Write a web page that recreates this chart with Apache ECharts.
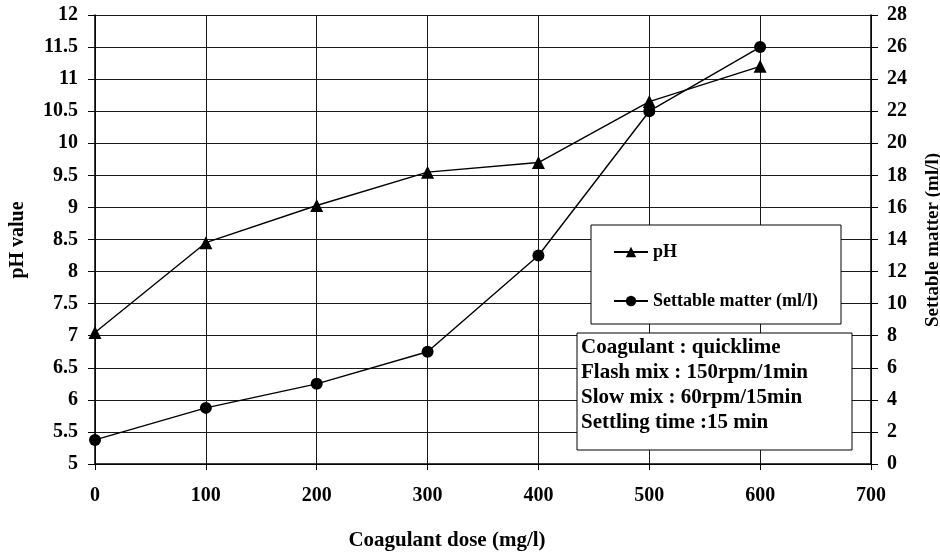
<!DOCTYPE html>
<html>
<head>
<meta charset="utf-8">
<title>pH and settable matter vs coagulant dose</title>
<script src="https://cdn.jsdelivr.net/npm/echarts@6/dist/echarts.min.js"></script>
<style>
    html, body { margin: 0; padding: 0; background: #fff; }
    #chartContainer { width: 940px; height: 552px; }
</style>
</head>
<body>
<div id="chartContainer"></div>
<script>
    'use strict';

    var doses = [0, 100, 200, 300, 400, 500, 600];
    var phValues = [7.05, 8.45, 9.03, 9.55, 9.7, 10.65, 11.2];
    var settableValues = [1.5, 3.5, 5, 7, 13, 22, 26];
    var noteLines = [
        'Coagulant : quicklime',
        'Flash mix : 150rpm/1min',
        'Slow mix : 60rpm/15min',
        'Settling time :15 min'
    ];

    var serif = '"Liberation Serif", "Times New Roman", serif';

    function pairs(xs, ys) {
        var out = [];
        for (var i = 0; i < xs.length; i++) {
            out.push([xs[i], ys[i]]);
        }
        return out;
    }

    var labelStyle = {
        color: '#000',
        fontFamily: serif,
        fontWeight: 'bold',
        fontSize: 20
    };

    var option = {
        animation: false,
        backgroundColor: '#fff',
        grid: {
            left: 95,
            right: 69,
            top: 15,
            bottom: 88,
            containLabel: false,
            outerBoundsMode: 'none'
        },
        legend: {
            orient: 'vertical',
            left: 613,
            top: 243,
            padding: 0,
            itemWidth: 34,
            itemHeight: 13,
            itemGap: 31,
            z: 6,
            textStyle: {
                color: '#000',
                fontFamily: serif,
                fontWeight: 'bold',
                fontSize: 18,
                lineHeight: 18
            },
            data: [ 'pH', 'Settable matter (ml/l)' ]
        },
        xAxis: {
            type: 'value',
            min: 0,
            max: 700,
            interval: 100,
            axisLine: { show: true, lineStyle: { color: '#000', width: 1.5 } },
            axisTick: { show: true, length: 6, lineStyle: { color: '#000' } },
            axisLabel: $label(22),
            splitLine: { show: true, lineStyle: { color: '#1a1a1a', width: 1 } }
        },
        yAxis: [
            {
                type: 'value',
                position: 'left',
                min: 5,
                max: 12,
                interval: 0.5,
                axisLine: { show: true, lineStyle: { color: '#000', width: 1.5 } },
                axisTick: { show: true, length: 7, lineStyle: { color: '#000' } },
                axisLabel: $label(17),
                splitLine: { show: true, lineStyle: { color: '#1a1a1a', width: 1 } }
            },
            {
                type: 'value',
                position: 'right',
                min: 0,
                max: 28,
                interval: 2,
                axisLine: { show: true, lineStyle: { color: '#000', width: 1.5 } },
                axisTick: { show: true, length: 7, lineStyle: { color: '#000' } },
                axisLabel: $label(16),
                splitLine: { show: false }
            }
        ],
        series: [
            {
                name: 'pH',
                type: 'line',
                yAxisIndex: 0,
                symbol: 'triangle',
                symbolSize: 13,
                z: 2,
                itemStyle: { color: '#000' },
                lineStyle: { color: '#000', width: 1.4 },
                data: pairs(doses, phValues)
            },
            {
                name: 'Settable matter (ml/l)',
                type: 'line',
                yAxisIndex: 1,
                symbol: 'circle',
                symbolSize: 12,
                z: 2,
                itemStyle: { color: '#000' },
                lineStyle: { color: '#000', width: 1.4 },
                data: pairs(doses, settableValues)
            }
        ],
        graphic: [
            {
                type: 'rect',
                z: 3,
                shape: { x: 591, y: 225, width: 250, height: 99 },
                style: { fill: '#fff', stroke: '#000', lineWidth: 1 }
            },
            {
                type: 'rect',
                z: 3,
                shape: { x: 577, y: 333, width: 275, height: 117 },
                style: { fill: '#fff', stroke: '#000', lineWidth: 1 }
            },
            {
                type: 'text',
                z: 4,
                x: 581,
                y: 335,
                style: {
                    text: noteLines.join('\n'),
                    fill: '#000',
                    font: 'bold 21px ' + serif,
                    lineHeight: 25,
                    verticalAlign: 'top'
                }
            },
            {
                // left axis name
                type: 'text',
                z: 4,
                x: 18,
                y: 240,
                rotation: Math.PI / 2,
                style: {
                    text: 'pH value',
                    fill: '#000',
                    font: 'bold 20px ' + serif,
                    align: 'center',
                    verticalAlign: 'middle'
                }
            },
            {
                // right axis name
                type: 'text',
                z: 4,
                x: 933,
                y: 240,
                rotation: Math.PI / 2,
                style: {
                    text: 'Settable matter (ml/l)',
                    fill: '#000',
                    font: 'bold 19px ' + serif,
                    align: 'center',
                    verticalAlign: 'middle'
                }
            },
            {
                // x axis name
                type: 'text',
                z: 4,
                x: 447,
                y: 541,
                style: {
                    text: 'Coagulant dose (mg/l)',
                    fill: '#000',
                    font: 'bold 21px ' + serif,
                    align: 'center',
                    verticalAlign: 'middle'
                }
            }
        ]
    };

    function $label(margin) {
        return {
            show: true,
            margin: margin,
            color: labelStyle.color,
            fontFamily: labelStyle.fontFamily,
            fontWeight: labelStyle.fontWeight,
            fontSize: labelStyle.fontSize
        };
    }

    var chart = echarts.init(document.getElementById('chartContainer'), null, { renderer: 'canvas' });
    chart.setOption(option);
</script>
</body>
</html>
